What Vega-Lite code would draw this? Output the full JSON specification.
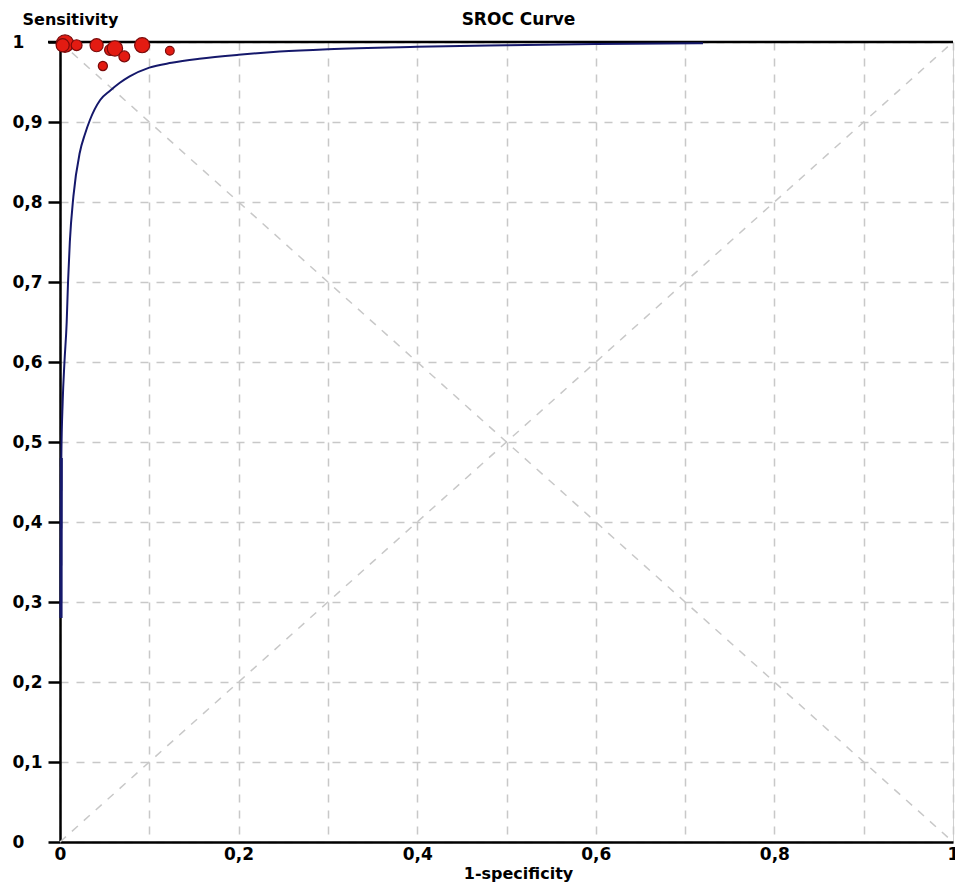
{
  "$schema": "https://vega.github.io/schema/vega-lite/v6.json",
  "autosize": {"type": "none"},
  "padding": {"left": 60, "top": 42, "right": 2, "bottom": 45},
  "width": 893,
  "height": 800,
  "background": "white",
  "config": {
    "view": {"stroke": "#d0d0d0", "strokeWidth": 1},
    "font": "DejaVu Sans"
  },
  "title": {
    "text": "SROC Curve",
    "anchor": "middle",
    "dx": 12,
    "offset": -18,
    "fontSize": 17,
    "fontWeight": "bold",
    "font": "DejaVu Sans",
    "color": "black"
  },
  "datasets": {
    "curve": [
      {"fpr": 0.0008, "sens": 0.28},
      {"fpr": 0.0012, "sens": 0.40},
      {"fpr": 0.0015, "sens": 0.48},
      {"fpr": 0.003, "sens": 0.55},
      {"fpr": 0.005, "sens": 0.60},
      {"fpr": 0.0075, "sens": 0.65},
      {"fpr": 0.009, "sens": 0.70},
      {"fpr": 0.011, "sens": 0.75},
      {"fpr": 0.015, "sens": 0.807},
      {"fpr": 0.022, "sens": 0.861},
      {"fpr": 0.028, "sens": 0.885},
      {"fpr": 0.0335, "sens": 0.9025},
      {"fpr": 0.045, "sens": 0.9275},
      {"fpr": 0.056, "sens": 0.939},
      {"fpr": 0.067, "sens": 0.949},
      {"fpr": 0.078, "sens": 0.957},
      {"fpr": 0.1, "sens": 0.968},
      {"fpr": 0.125, "sens": 0.974},
      {"fpr": 0.156, "sens": 0.979},
      {"fpr": 0.2, "sens": 0.984},
      {"fpr": 0.246, "sens": 0.988},
      {"fpr": 0.3, "sens": 0.991},
      {"fpr": 0.4, "sens": 0.994},
      {"fpr": 0.5, "sens": 0.996},
      {"fpr": 0.6, "sens": 0.9975},
      {"fpr": 0.72, "sens": 0.9985}
    ],
    "studies": [
      {"fpr": 0.0056, "sens": 0.998, "weight": 8},
      {"fpr": 0.003, "sens": 0.996, "weight": 4.5},
      {"fpr": 0.0186, "sens": 0.996, "weight": 3.1},
      {"fpr": 0.041, "sens": 0.996, "weight": 4.5},
      {"fpr": 0.056, "sens": 0.990, "weight": 3.1},
      {"fpr": 0.0615, "sens": 0.992, "weight": 6.2},
      {"fpr": 0.072, "sens": 0.982, "weight": 3.1},
      {"fpr": 0.092, "sens": 0.996, "weight": 6.0},
      {"fpr": 0.123, "sens": 0.989, "weight": 2.0},
      {"fpr": 0.048, "sens": 0.970, "weight": 2.2}
    ],
    "diag": [
      {"fpr": 0, "sens": 0, "line": "a"},
      {"fpr": 1, "sens": 1, "line": "a"},
      {"fpr": 0, "sens": 1, "line": "b"},
      {"fpr": 1, "sens": 0, "line": "b"}
    ]
  },
  "layer": [
    {
      "data": {"name": "diag"},
      "mark": {"type": "line", "color": "#c8c8c8", "strokeWidth": 1.5, "strokeDash": [8, 8]},
      "encoding": {
        "x": {
          "field": "fpr", "type": "quantitative",
          "scale": {"domain": [0, 1], "nice": false},
          "axis": {
            "values": [0, 0.1, 0.2, 0.3, 0.4, 0.5, 0.6, 0.7, 0.8, 0.9, 1],
            "labelExpr": "round(datum.value*10) % 2 == 0 ? replace(format(datum.value, '.1~f'), '.', ',') : ''",
            "ticks": false,
            "tickSize": 0,
            "labelPadding": 4,
            "labelFont": "DejaVu Sans",
            "labelFontSize": 17,
            "labelFontWeight": "bold",
            "labelColor": "black",
            "labelFlush": false,
            "labelOverlap": false,
            "domainColor": "black",
            "domainWidth": 2.5,
            "grid": true,
            "gridColor": "#c8c8c8",
            "gridDash": [8, 8],
            "gridWidth": 1.5,
            "title": "1-specificity",
            "titleFont": "DejaVu Sans",
            "titleFontSize": 16,
            "titleFontWeight": "bold",
            "titleColor": "black",
            "titlePadding": 3,
            "titleX": 458,
            "titleAnchor": null
          }
        },
        "y": {
          "field": "sens", "type": "quantitative",
          "scale": {"domain": [0, 1], "nice": false},
          "axis": {
            "values": [0, 0.1, 0.2, 0.3, 0.4, 0.5, 0.6, 0.7, 0.8, 0.9, 1],
            "labelExpr": "replace(format(datum.value, '.1~f'), '.', ',')",
            "tickSize": 12,
            "tickColor": "black",
            "tickWidth": 2.5,
            "labelAlign": "left",
            "labelPadding": 36,
            "labelFont": "DejaVu Sans",
            "labelFontSize": 17,
            "labelFontWeight": "bold",
            "labelColor": "black",
            "labelFlush": false,
            "labelOverlap": false,
            "domainColor": "black",
            "domainWidth": 2.5,
            "grid": true,
            "gridColor": "#c8c8c8",
            "gridDash": [8, 8],
            "gridWidth": 1.5,
            "title": "Sensitivity",
            "titleAngle": 0,
            "titleAlign": "left",
            "titleBaseline": "middle",
            "titleX": -38,
            "titleY": -23,
            "titleFont": "DejaVu Sans",
            "titleFontSize": 16,
            "titleFontWeight": "bold",
            "titleColor": "black"
          }
        },
        "detail": {"field": "line", "type": "nominal"}
      }
    },
    {
      "data": {"values": [{"y": 1}]},
      "mark": {"type": "rule", "color": "black", "strokeWidth": 2.5, "x": -12, "x2": 893},
      "encoding": {"y": {"field": "y", "type": "quantitative"}}
    },
    {
      "data": {"name": "curve"},
      "mark": {"type": "line", "color": "#15186b", "strokeWidth": 2, "interpolate": "monotone"},
      "encoding": {
        "x": {"field": "fpr", "type": "quantitative"},
        "y": {"field": "sens", "type": "quantitative"}
      }
    },
    {
      "data": {"values": [{"fpr": 0.0012, "sens": 0.28}, {"fpr": 0.0015, "sens": 0.48}]},
      "mark": {"type": "line", "color": "#15186b", "strokeWidth": 3},
      "encoding": {
        "x": {"field": "fpr", "type": "quantitative"},
        "y": {"field": "sens", "type": "quantitative"}
      }
    },
    {
      "data": {"name": "studies"},
      "mark": {"type": "circle", "fill": "#e31b12", "stroke": "#7a0a0a", "strokeWidth": 1.2, "opacity": 1, "fillOpacity": 1},
      "encoding": {
        "x": {"field": "fpr", "type": "quantitative"},
        "y": {"field": "sens", "type": "quantitative"},
        "size": {"field": "weight", "type": "quantitative", "scale": {"domain": [0, 10], "range": [0, 380], "zero": true}, "legend": null}
      }
    }
  ]
}
